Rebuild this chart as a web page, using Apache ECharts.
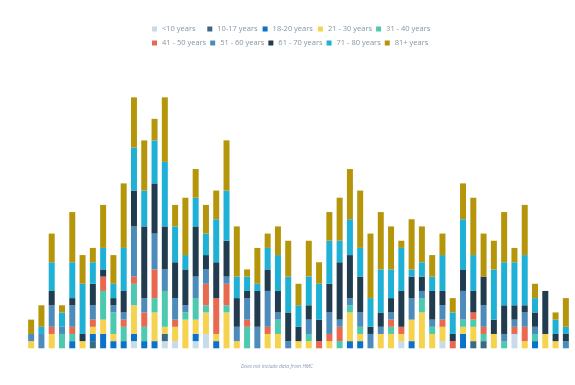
<!DOCTYPE html>
<html>
<head>
<meta charset="utf-8">
<script src="https://cdn.jsdelivr.net/npm/echarts@6/dist/echarts.min.js"></script>
<style>
html,body{margin:0;padding:0;background:#fff;}
#c{width:575px;height:385px;}
</style>
</head>
<body>
<div id="c"></div>
<script>
var categories = ["1","2","3","4","5","6","7","8","9","10","11","12","13","14","15","16","17","18","19","20","21","22","23","24","25","26","27","28","29","30","31","32","33","34","35","36","37","38","39","40","41","42","43","44","45","46","47","48","49","50","51","52","53"];

var seriesNames = ["<10 years","10-17 years","18-20 years","21 - 30 years","31 - 40 years","41 - 50 years","51 - 60 years","61 - 70 years","71 - 80 years","81+ years"];

var under10 = [0,0,0,0,0,0,0,0,0,0, 1,0,0,1,1,0,1,2,0,0, 0,0,0,0,0,0,0,0,0,0, 0,0,0,0,0,0,1,0,0,0, 1,0,0,0,0,0,0,2,0,0, 0,0,0];
var age10_17 = [0,0,0,0,0,0,1,0,0,0, 0,0,0,1,0,0,0,0,0,0, 0,0,0,0,0,0,0,0,0,0, 0,0,0,0,0,0,0,0,0,0, 0,0,0,1,1,0,0,0,0,0, 0,0,0];
var age18_20 = [0,0,0,0,1,0,1,2,1,1, 1,1,1,0,0,0,1,0,1,0, 0,0,0,0,0,0,0,0,0,0, 0,1,1,0,0,0,0,1,0,0, 0,0,2,0,0,0,0,0,0,1, 0,0,0];
var age21_30 = [1,0,2,0,0,1,1,2,1,0, 4,0,4,1,2,4,2,3,1,5, 1,0,0,2,2,0,1,1,0,1, 0,4,1,0,2,2,1,3,5,2, 2,0,1,2,0,2,0,0,1,0, 2,1,0];
var age31_40 = [0,0,0,2,1,0,0,4,3,2, 3,2,2,5,0,1,3,1,0,1, 0,3,0,0,2,0,0,1,0,0, 1,1,1,0,0,1,0,0,2,1, 0,0,1,1,1,0,1,0,0,1, 0,0,0];
var age41_50 = [0,0,1,0,1,0,1,2,0,1, 1,2,4,0,1,0,0,3,5,3, 0,1,0,1,0,0,0,0,1,1, 2,0,0,0,0,1,1,0,0,0, 1,1,0,1,1,0,0,1,2,0, 0,0,0];
var age51_60 = [1,2,3,1,3,0,2,0,1,1, 7,2,5,3,3,1,3,2,0,1, 2,3,3,5,1,1,0,2,0,3, 1,1,2,2,1,1,0,3,1,1, 2,0,4,0,3,0,1,1,2,1, 0,0,1];
var age61_70 = [0,0,2,0,1,1,3,1,1,3, 5,10,7,6,5,5,7,2,5,5, 4,1,5,3,3,4,2,2,3,4, 8,6,5,1,2,2,5,3,2,4, 2,1,3,3,4,2,4,2,1,2, 6,1,1];
var age71_80 = [0,1,4,2,5,7,3,3,2,6, 6,5,6,9,5,2,4,3,6,7, 3,2,1,3,5,5,3,4,5,6, 3,5,4,4,6,4,6,1,2,2, 5,3,7,5,0,7,6,6,7,2, 0,2,1];
var age81plus = [2,3,4,1,7,4,2,6,4,9, 7,7,3,9,3,8,4,4,4,7, 7,1,5,2,4,5,3,5,3,4, 6,7,8,9,8,6,1,7,5,3, 3,2,5,8,6,4,7,2,7,2, 0,1,4];

var seriesData = [under10, age10_17, age18_20, age21_30, age31_40, age41_50, age51_60, age61_70, age71_80, age81plus];
var colors = ["#c8dbe8","#3a6983","#0a72c8","#f5d34f","#4dc9b0","#e8694f","#4d8cba","#213c4f","#1fb0d6","#b5960b"];

var series = seriesNames.map(function(name, i){
  return {
    name: name,
    type: 'bar',
    stack: 'total',
    barWidth: 6,
    data: seriesData[i],
    itemStyle: { color: colors[i] },
    emphasis: { disabled: true }
  };
});

var chart = echarts.init(document.getElementById('c'), null, {renderer:'canvas'});
chart.setOption({
  animation: false,
  color: colors,
  legend: {
    data: seriesNames,
    left: 152,
    top: 24,
    width: 300,
    padding: 0,
    itemGap: 4,
    itemWidth: 5,
    itemHeight: 5,
    icon: 'rect',
    textStyle: {
      color: '#8796a5',
      fontSize: 7.5,
      fontFamily: 'Open Sans',
      width: 41.3,
      lineHeight: 10
    }
  },
  grid: { left: 26, right: 4, top: 61.5, bottom: 36.7 },
  xAxis: {
    type: 'category',
    data: categories,
    show: false
  },
  yAxis: {
    type: 'value',
    min: 0,
    max: 40,
    show: false,
    splitLine: { show: false }
  },
  graphic: [{
    type: 'text',
    left: 241,
    top: 364,
    style: {
      text: 'Does not include data from HMC',
      fill: '#8a9bb0',
      font: 'italic 5px "Open Sans"'
    }
  }],
  series: series
});
</script>
</body>
</html>
